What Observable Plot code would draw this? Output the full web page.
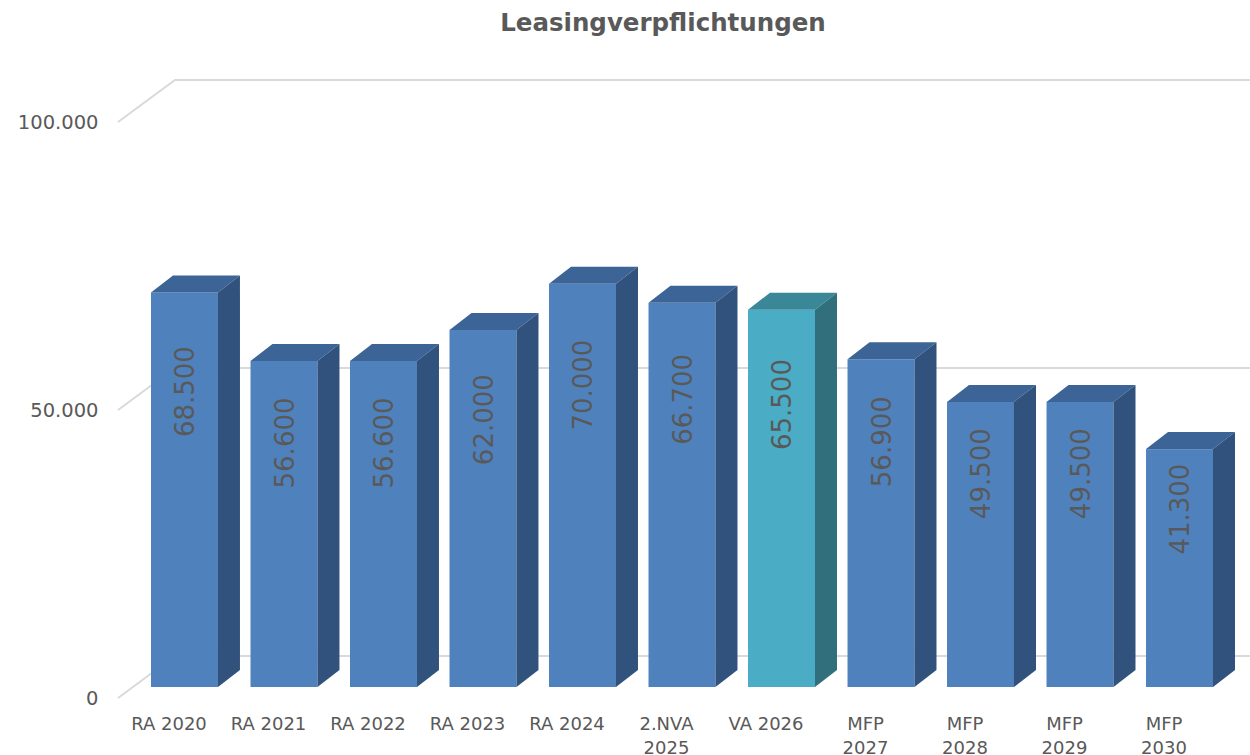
<!DOCTYPE html>
<html>
<head>
<meta charset="utf-8">
<script src="https://cdn.jsdelivr.net/npm/d3@7"></script>
<script src="https://cdn.jsdelivr.net/npm/@observablehq/plot@0.6"></script>
<style>
  body { margin: 0; background: #fff; width: 1250px; height: 755px; overflow: hidden; position: relative; font-family: "DejaVu Sans", sans-serif; }
  #title { position: absolute; left: 663px; top: 8px; transform: translateX(-50%); font-size: 24.5px; font-weight: bold; color: #595959; white-space: nowrap; }
  #chart { position: absolute; left: 0; top: 50px; }
</style>
</head>
<body>
<div id="title">Leasingverpflichtungen</div>
<div id="chart"></div>
<script>
const categories = ["RA 2020", "RA 2021", "RA 2022", "RA 2023", "RA 2024", "2.NVA 2025", "VA 2026", "MFP 2027", "MFP 2028", "MFP 2029", "MFP 2030"];
const xLabels = ["RA 2020", "RA 2021", "RA 2022", "RA 2023", "RA 2024", "2.NVA\n2025", "VA 2026", "MFP\n2027", "MFP\n2028", "MFP\n2029", "MFP\n2030"];
const values = [68500, 56600, 56600, 62000, 70000, 66700, 65500, 56900, 49500, 49500, 41300];
const valueLabels = ["68.500", "56.600", "56.600", "62.000", "70.000", "66.700", "65.500", "56.900", "49.500", "49.500", "41.300"];
const highlighted = ["VA 2026"];
const yTicks = [0, 50000, 100000];
const yTickLabels = ["0", "50.000", "100.000"];

const palette = {
  normal: {front: "#4F81BD", top: "#3C6496", side: "#31527C"},
  accent: {front: "#4BACC6", top: "#3A8797", side: "#316F7D"}
};

const data = categories.map((c, i) => ({
  cat: c, xlabel: xLabels[i], value: values[i], label: valueLabels[i],
  pal: highlighted.includes(c) ? palette.accent : palette.normal
}));
const tickData = yTicks.map((v, i) => ({v, label: yTickLabels[i]}));

const DX = 22, DY = -17;

function gridMark(index, scales) {
  const g = d3.create("svg:g");
  for (const t of yTicks) {
    const yf = scales.y(t);
    g.append("path")
      .attr("d", `M118,${yf + 11}L175,${yf - 31}L1250,${yf - 31}`)
      .attr("fill", "none").attr("stroke", "#D9D9D9").attr("stroke-width", 2);
  }
  return g.node();
}

function facesMark(index, scales) {
  const g = d3.create("svg:g");
  const w = scales.x.bandwidth();
  for (const d of data) {
    const x0 = scales.x(d.cat), x1 = x0 + w;
    const yT = scales.y(d.value), yB = scales.y(0);
    g.append("path")
      .attr("d", `M${x0},${yT}L${x0 + DX},${yT + DY}L${x1 + DX},${yT + DY}L${x1},${yT}Z`)
      .attr("fill", d.pal.top);
    g.append("path")
      .attr("d", `M${x1},${yT}L${x1 + DX},${yT + DY}L${x1 + DX},${yB + DY}L${x1},${yB}Z`)
      .attr("fill", d.pal.side);
  }
  return g.node();
}

const chart = Plot.plot({
  width: 1250,
  height: 705,
  marginTop: 61,
  marginBottom: 68,
  marginLeft: 151,
  marginRight: 37,
  style: {fontFamily: "DejaVu Sans, sans-serif", background: "white", overflow: "visible"},
  x: {domain: categories, paddingInner: 0.327, paddingOuter: 0, round: false, axis: null},
  y: {domain: [0, 100000], axis: null},
  color: {type: "identity"},
  marks: [
    gridMark,
    Plot.barY(data, {x: "cat", y: "value", fill: d => d.pal.front}),
    facesMark,
    Plot.text(data, {x: "cat", y: d => d.value * 0.75, text: "label", rotate: -90, dx: 1,
      fill: "#595959", fontSize: 26}),
    Plot.text(tickData, {y: "v", text: "label", frameAnchor: "left", dx: -53, dy: 11,
      textAnchor: "end", fill: "#595959", fontSize: 19.5}),
    Plot.text(data, {x: "cat", text: "xlabel", frameAnchor: "bottom", lineAnchor: "top",
      dy: 26, dx: -16, fill: "#595959", fontSize: 18, lineHeight: 1.3})
  ]
});
document.getElementById("chart").appendChild(chart);
</script>
</body>
</html>
